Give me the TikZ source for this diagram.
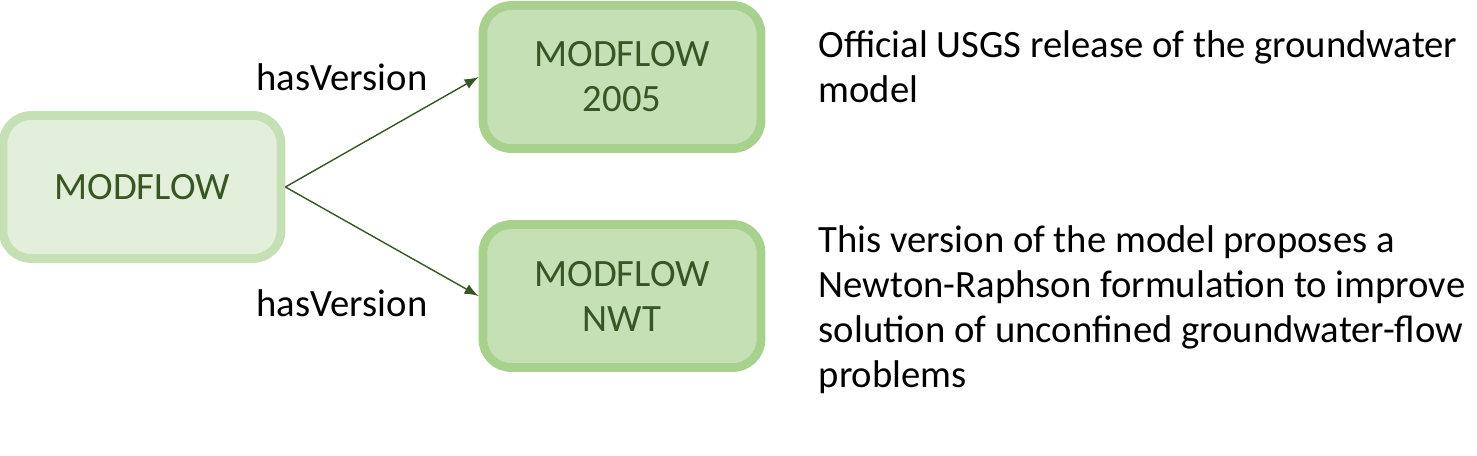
\documentclass[tikz,border=0pt]{standalone}
\usepackage{fontspec}
\setmainfont{Carlito}
\usetikzlibrary{positioning}
\definecolor{lightgreen}{HTML}{E2EFDA}
\definecolor{midgreen}{HTML}{C5E0B4}
\definecolor{edgegreen}{HTML}{A9D18E}
\definecolor{darkgreen}{HTML}{375623}
\tikzset{
  model/.style={rounded corners=8pt,line width=2.5pt,minimum width=2.78cm,
    minimum height=1.43cm,align=center,text=darkgreen,font=\fontsize{11}{12.8}\selectfont},
  rel/.style={-latex,darkgreen,thin},
  note/.style={anchor=north west,align=left,inner sep=0pt,
    font=\fontsize{11}{12.8}\selectfont}
}
\begin{document}
\begin{tikzpicture}
  \useasboundingbox (0,0) rectangle (14.77,4.55);
  \node[model,fill=lightgreen,draw=midgreen] (mf) at (1.42,2.68) {MODFLOW};
  \node[model,fill=midgreen,draw=edgegreen] (mf2005) at (6.22,3.78) {MODFLOW\\2005};
  \node[model,fill=midgreen,draw=edgegreen] (mfnwt) at (6.22,1.59) {MODFLOW\\NWT};

  \draw[rel] (mf.east) -- (mf2005.west);
  \draw[rel] (mf.east) -- (mfnwt.west);
  \node (hv1) at (3.42,3.78) {\fontsize{11}{12.8}\selectfont hasVersion};
  \node (hv2) at (3.42,1.52) {\fontsize{11}{12.8}\selectfont hasVersion};

  \node[note] (txt2005) at (8.18,4.25) {Official USGS release of the groundwater\\model};
  \node[note] (txtnwt) at (8.18,2.30) {This version of the model proposes a\\
    Newton-Raphson formulation to improve\\solution of unconfined groundwater-flow\\problems};
\end{tikzpicture}
\end{document}
